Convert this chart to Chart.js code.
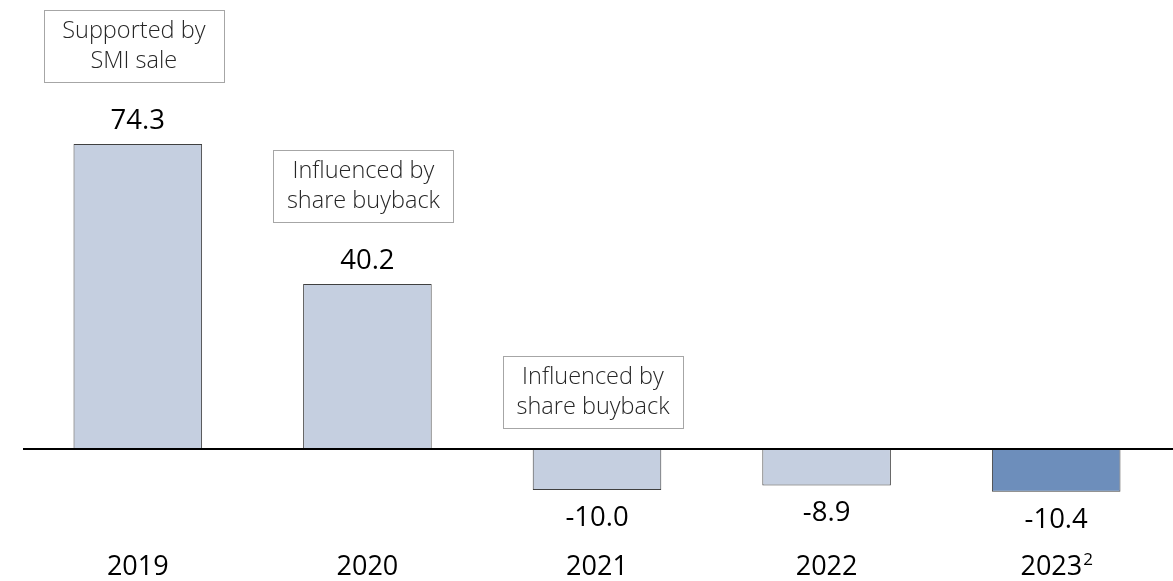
<!DOCTYPE html>
<html>
<head>
<meta charset="utf-8">
<script src="https://cdn.jsdelivr.net/npm/chart.js@4.4.0/dist/chart.umd.min.js"></script>
<style>
  html, body { margin: 0; padding: 0; background: #fff; }
  #wrap { width: 1173px; height: 581px; position: relative; }
</style>
</head>
<body>
<div id="wrap"><canvas id="chart"></canvas></div>
<script>
// data
const years = ['2019', '2020', '2021', '2022', '2023'];
const yearSup = ['', '', '', '', '2'];
const values = [74.3, 40.2, -10.0, -8.9, -10.4];
const barColors = ['#c5cfe0', '#c5cfe0', '#c5cfe0', '#c5cfe0', '#6d8ebb'];
const notes = [
  ['Supported by', 'SMI sale'],
  ['Influenced by', 'share buyback'],
  ['Influenced by', 'share buyback'],
  null,
  null,
];

const FONT = '"Open Sans", "Noto Sans", sans-serif';

const overlay = {
  id: 'overlay',
  afterDatasetsDraw(chart) {
    const { ctx, chartArea, scales } = chart;
    const y = scales.y;
    const zero = y.getPixelForValue(0);
    const meta = chart.getDatasetMeta(0);

    // baseline
    ctx.save();
    ctx.strokeStyle = '#000';
    ctx.lineWidth = 2;
    ctx.beginPath();
    ctx.moveTo(chartArea.left, zero);
    ctx.lineTo(chart.width, zero);
    ctx.stroke();

    meta.data.forEach((bar, i) => {
      const v = values[i];
      const cx = bar.x;

      // value label
      ctx.fillStyle = '#000';
      ctx.font = '400 27.5px ' + FONT;
      ctx.textAlign = 'center';
      ctx.textBaseline = 'middle';
      const ly = v >= 0 ? bar.y - 23 : bar.y + 28;
      ctx.fillText(v.toFixed(1), cx, ly);

      // year label with optional superscript
      const yy = 567;
      ctx.font = '400 27px ' + FONT;
      const w = ctx.measureText(years[i]).width;
      let sw = 0;
      if (yearSup[i]) {
        ctx.font = '400 17px ' + FONT;
        sw = ctx.measureText(yearSup[i]).width;
      }
      const x0 = cx - (w + sw) / 2;
      ctx.textAlign = 'left';
      ctx.font = '400 27px ' + FONT;
      ctx.fillText(years[i], x0, yy);
      if (yearSup[i]) {
        ctx.font = '400 17px ' + FONT;
        ctx.fillText(yearSup[i], x0 + w + 1, yy - 7);
      }

      // annotation box
      const note = notes[i];
      if (note) {
        const bw = 180, bh = 72;
        const bottom = v >= 0 ? bar.y - 62 : zero - 21;
        const bx = cx - 4 - bw / 2;
        const by = bottom - bh;
        ctx.fillStyle = '#fff';
        ctx.fillRect(bx, by, bw, bh);
        ctx.strokeStyle = '#a6a6a6';
        ctx.lineWidth = 1;
        ctx.strokeRect(Math.round(bx) + 0.5, Math.round(by) + 0.5, bw, bh);
        ctx.fillStyle = '#262626';
        ctx.font = '300 23.5px ' + FONT;
        ctx.textAlign = 'center';
        ctx.textBaseline = 'middle';
        ctx.fillText(note[0], cx - 4, by + 21);
        ctx.fillText(note[1], cx - 4, by + 51);
      }
    });
    ctx.restore();
  }
};

new Chart(document.getElementById('chart').getContext('2d'), {
  type: 'bar',
  data: {
    labels: years,
    datasets: [{
      data: values,
      backgroundColor: barColors,
      borderColor: '#404040',
      borderWidth: 1,
      borderSkipped: false,
      categoryPercentage: 1,
      barPercentage: 0.56,
    }],
  },
  options: {
    responsive: true,
    maintainAspectRatio: false,
    animation: false,
    layout: { padding: { left: 23, right: 2, top: 0, bottom: 0 } },
    plugins: { legend: { display: false }, tooltip: { enabled: false } },
    scales: {
      x: { display: false },
      y: { display: false, min: -32.16, max: 109.4 },
    },
  },
  plugins: [overlay],
});
</script>
</body>
</html>
